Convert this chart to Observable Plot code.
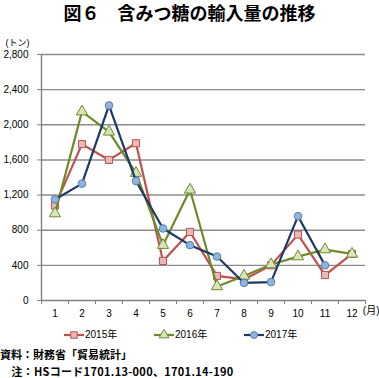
<!DOCTYPE html>
<html><head><meta charset="utf-8">
<script src="https://cdn.jsdelivr.net/npm/d3@7"></script>
<script src="https://cdn.jsdelivr.net/npm/@observablehq/plot@0.6"></script>
<style>
body{margin:0;width:379px;height:378px;overflow:hidden;background:#fff;position:relative;font-family:"Liberation Sans","Noto Sans CJK JP",sans-serif;color:#000;}
#title{position:absolute;left:0;top:0;width:379px;height:24px;line-height:24px;text-align:center;font-family:"Noto Sans CJK JP";font-weight:bold;font-size:18px;white-space:nowrap;}
#chart{position:absolute;left:0;top:30px;}
#legend{position:absolute;left:0;top:328px;width:379px;height:14px;font-size:10px;}
.item{position:absolute;top:0;height:14px;line-height:14px;white-space:nowrap;}
.item svg{vertical-align:top;}
.note{position:absolute;left:0;font-family:"Noto Sans CJK JP";font-weight:bold;font-size:11px;white-space:nowrap;line-height:11px;height:11px;}
</style></head><body>
<div id="title">図６　含みつ糖の輸入量の推移</div>
<div id="chart"></div>
<div id="legend"></div>
<div class="note" style="top:349px">資料：財務省「貿易統計」</div>
<div class="note" style="top:366px;letter-spacing:0.3px">　注：HSコード1701.13-000、1701.14-190</div>
<script>
const months = [1,2,3,4,5,6,7,8,9,10,11,12];
const years = ["2015年","2016年","2017年"];
const v2015 = [1080,1780,1600,1790,450,780,280,240,400,750,290,530];
const v2016 = [990,2150,1920,1450,630,1260,160,280,410,500,580,530];
const v2017 = [1150,1330,2220,1360,820,630,500,200,210,960,400,null];
const yTicks = [0,400,800,1200,1600,2000,2400,2800];

const styles = [
  {line:"#C0504D", fill:"#E6B9B8", stroke:"#C0504D", symbol:"square", r:4.0},
  {line:"#6E8B2A", fill:"#D7E4BD", stroke:"#6E8B2A", symbol:"triangle", r:4.2},
  {line:"#1F3864", fill:"#95B3D7", stroke:"#4F81BD", symbol:"circle", r:3.8}
];
const seriesVals = [v2015, v2016, v2017];
const rows = [];
seriesVals.forEach((vals, si) => months.forEach((m, i) => {
  if (vals[i] != null) rows.push({series: years[si], month: m, value: vals[i]});
}));

const bounds = d3.range(0.5, 13, 1);
const marks = [
  Plot.gridY(yTicks.filter(d => d > 0), {stroke:"#8c8c8c", strokeOpacity:1, strokeWidth:1.4}),
  Plot.ruleY([0], {stroke:"#808080", strokeWidth:1.4}),
  Plot.ruleX([0.5], {stroke:"#808080", strokeWidth:1.4}),
  Plot.axisY(yTicks, {tickSize:4, tickPadding:9, fontSize:10, tickFormat:d3.format(","), stroke:"#808080", label:null}),
  Plot.axisX(months, {tickSize:0, tickPadding:9, fontSize:10, label:null}),
  Plot.axisX(bounds, {tickSize:4, tickFormat:() => "", stroke:"#808080", label:null}),
  Plot.text(["(トン)"], {frameAnchor:"top-left", textAnchor:"start", dx:-36, dy:-15, fontSize:9}),
  Plot.text(["(月)"], {frameAnchor:"bottom-right", textAnchor:"end", dx:14, dy:13, fontSize:10})
];
years.forEach((y, si) => {
  const s = styles[si];
  const data = rows.filter(d => d.series === y);
  marks.push(Plot.line(data, {x:"month", y:"value", stroke:s.line, strokeWidth:2.2}));
  marks.push(Plot.dot(data, {x:"month", y:"value", symbol:s.symbol, r:s.r, fill:s.fill, stroke:s.stroke, strokeWidth:1}));
});

const chart = Plot.plot({
  width:379, height:292,
  marginLeft:41, marginRight:14, marginTop:24, marginBottom:22,
  style:{fontFamily:'"Liberation Sans","Noto Sans CJK JP",sans-serif', fontSize:"10px", color:"#000", background:"#fff"},
  x:{type:"linear", domain:[0.5,12.5], label:null},
  y:{domain:[0,2800], label:null},
  marks
});
document.getElementById("chart").appendChild(chart);

// legend
const legend = document.getElementById("legend");
const lefts = [64, 154, 244];
years.forEach((y, si) => {
  const s = styles[si];
  const div = document.createElement("div");
  div.className = "item";
  div.style.left = lefts[si] + "px";
  const sym = d3.symbol(si === 0 ? d3.symbolSquare : si === 1 ? d3.symbolTriangle : d3.symbolCircle, si === 0 ? 42 : si === 1 ? 42 : 38)();
  div.innerHTML = `<svg width="21" height="14"><line x1="0" x2="20" y1="7" y2="7" stroke="${s.line}" stroke-width="2.2"/><path transform="translate(10,7)" d="${sym}" fill="${s.fill}" stroke="${s.stroke}"/></svg>${y}`;
  legend.appendChild(div);
});
</script>
</body></html>
